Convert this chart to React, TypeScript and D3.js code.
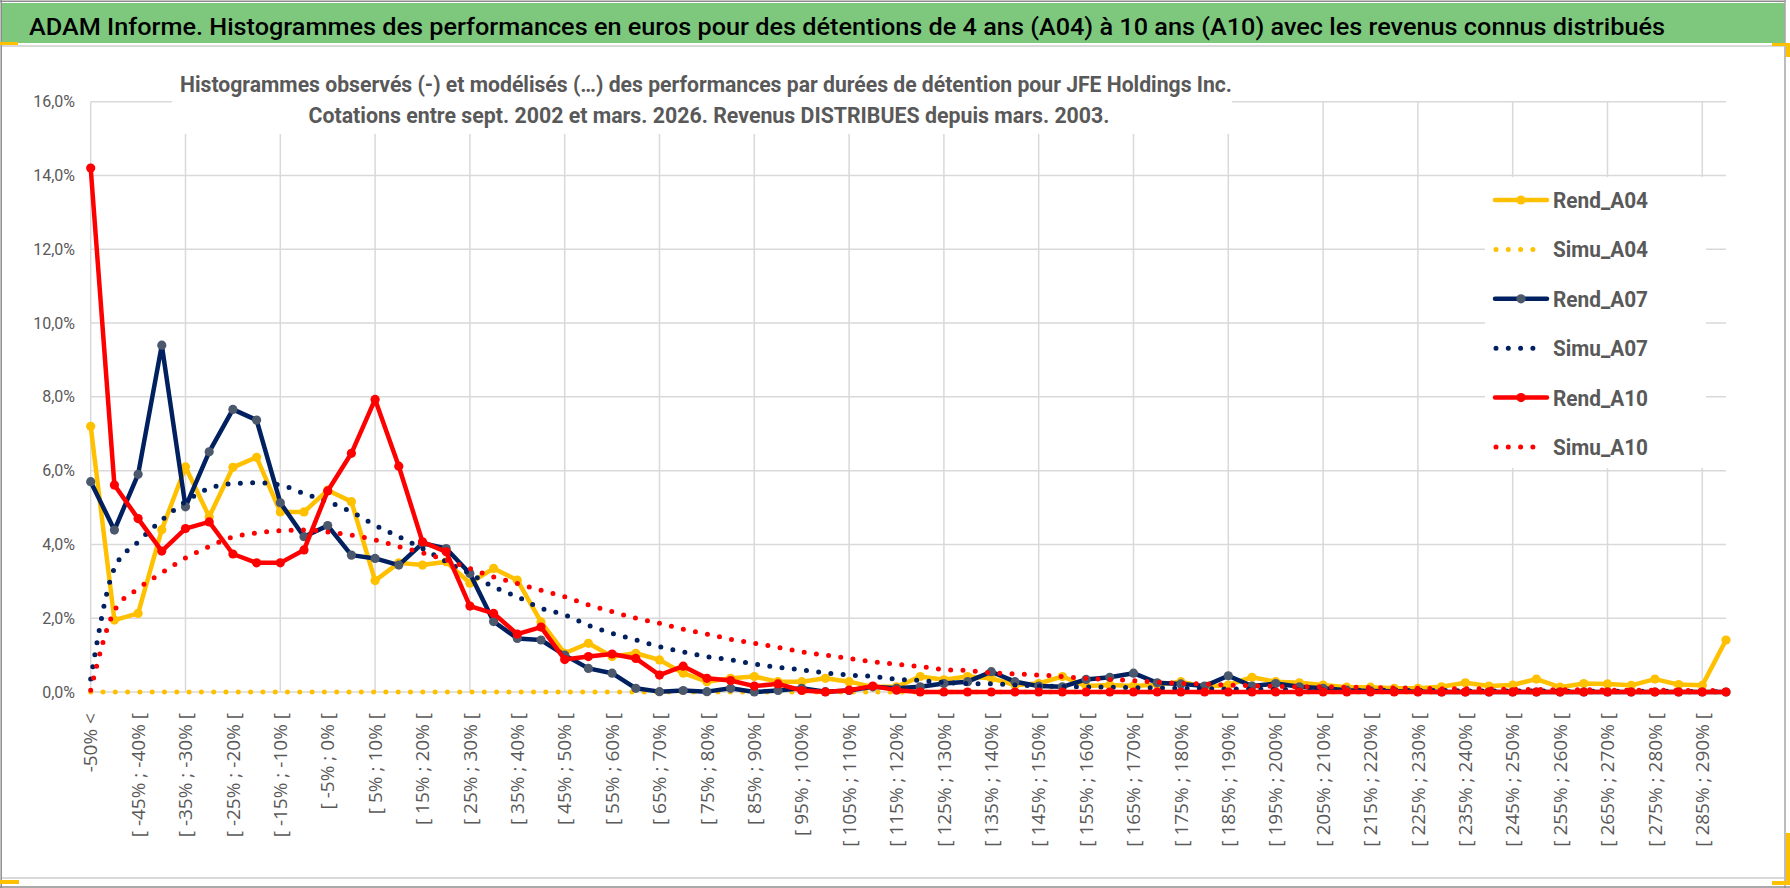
import React from 'react';
import * as d3 from 'd3';

// categories (5% buckets), labels shown every other bucket
const CATEGORIES = [
  '-50% <',
  '[ -50% ; -45% [', '[ -45% ; -40% [', '[ -40% ; -35% [', '[ -35% ; -30% [', '[ -30% ; -25% [',
  '[ -25% ; -20% [', '[ -20% ; -15% [', '[ -15% ; -10% [', '[ -10% ; -5% [', '[ -5% ; 0% [',
  '[ 0% ; 5% [', '[ 5% ; 10% [', '[ 10% ; 15% [', '[ 15% ; 20% [', '[ 20% ; 25% [',
  '[ 25% ; 30% [', '[ 30% ; 35% [', '[ 35% ; 40% [', '[ 40% ; 45% [', '[ 45% ; 50% [',
  '[ 50% ; 55% [', '[ 55% ; 60% [', '[ 60% ; 65% [', '[ 65% ; 70% [', '[ 70% ; 75% [',
  '[ 75% ; 80% [', '[ 80% ; 85% [', '[ 85% ; 90% [', '[ 90% ; 95% [', '[ 95% ; 100% [',
  '[ 100% ; 105% [', '[ 105% ; 110% [', '[ 110% ; 115% [', '[ 115% ; 120% [', '[ 120% ; 125% [',
  '[ 125% ; 130% [', '[ 130% ; 135% [', '[ 135% ; 140% [', '[ 140% ; 145% [', '[ 145% ; 150% [',
  '[ 150% ; 155% [', '[ 155% ; 160% [', '[ 160% ; 165% [', '[ 165% ; 170% [', '[ 170% ; 175% [',
  '[ 175% ; 180% [', '[ 180% ; 185% [', '[ 185% ; 190% [', '[ 190% ; 195% [', '[ 195% ; 200% [',
  '[ 200% ; 205% [', '[ 205% ; 210% [', '[ 210% ; 215% [', '[ 215% ; 220% [', '[ 220% ; 225% [',
  '[ 225% ; 230% [', '[ 230% ; 235% [', '[ 235% ; 240% [', '[ 240% ; 245% [', '[ 245% ; 250% [',
  '[ 250% ; 255% [', '[ 255% ; 260% [', '[ 260% ; 265% [', '[ 265% ; 270% [', '[ 270% ; 275% [',
  '[ 275% ; 280% [', '[ 280% ; 285% [', '[ 285% ; 290% [', '[ 290% ; 295% ['
];

const REND_A04 = [
  7.2, 1.95, 2.13, 4.4, 6.1, 4.75, 6.09, 6.36, 4.88, 4.88,
  5.47, 5.16, 3.02, 3.5, 3.44, 3.53, 2.95, 3.35, 3.03, 1.9,
  1.05, 1.32, 0.96, 1.05, 0.87, 0.51, 0.28, 0.37, 0.42, 0.28,
  0.28, 0.37, 0.28, 0.14, 0.14, 0.42, 0.33, 0.42, 0.37, 0.19,
  0.23, 0.42, 0.16, 0.19, 0.16, 0.2, 0.28, 0.14, 0.19, 0.4,
  0.28, 0.25, 0.19, 0.13, 0.13, 0.1, 0.1, 0.14, 0.25, 0.16,
  0.19, 0.35, 0.13, 0.23, 0.22, 0.18, 0.35, 0.2, 0.18, 1.41
];

const SIMU_A04 = [
  0, 0, 0, 0, 0, 0, 0, 0, 0, 0,
  0, 0, 0, 0, 0, 0, 0, 0, 0, 0,
  0, 0, 0, 0, 0, 0, 0, 0, 0, 0,
  0, 0, 0, 0, 0, 0, 0, 0, 0, 0,
  0, 0, 0, 0, 0, 0, 0, 0, 0, 0,
  0, 0, 0, 0, 0, 0, 0, 0, 0, 0,
  0, 0, 0, 0, 0, 0, 0, 0, 0, 0
];

const REND_A07 = [
  5.7, 4.39, 5.9, 9.4, 5.02, 6.51, 7.66, 7.37, 5.13, 4.21,
  4.51, 3.71, 3.62, 3.44, 4.03, 3.89, 3.21, 1.91, 1.45, 1.41,
  1.0, 0.64, 0.51, 0.1, 0.01, 0.04, 0.01, 0.1, 0.0, 0.04,
  0.1, 0.01, 0.04, 0.14, 0.1, 0.14, 0.23, 0.28, 0.55, 0.28,
  0.16, 0.14, 0.34, 0.4, 0.51, 0.25, 0.22, 0.16, 0.44, 0.16,
  0.23, 0.14, 0.1, 0.05, 0.03, 0.02, 0.01, 0, 0, 0,
  0, 0, 0, 0, 0, 0, 0, 0, 0, 0
];

const SIMU_A07 = [
  0.35, 3.35, 4.07, 4.66, 5.16, 5.52, 5.65, 5.67, 5.61, 5.38,
  5.16, 4.88, 4.52, 4.21, 3.89, 3.53, 3.21, 2.85, 2.58, 2.27,
  2.09, 1.81, 1.59, 1.41, 1.23, 1.09, 0.96, 0.87, 0.76, 0.67,
  0.6, 0.52, 0.46, 0.42, 0.35, 0.31, 0.26, 0.23, 0.22, 0.19,
  0.16, 0.15, 0.14, 0.13, 0.12, 0.11, 0.1, 0.09, 0.08, 0.08,
  0.07, 0.06, 0.06, 0.05, 0.05, 0.04, 0.04, 0.04, 0.03, 0.03,
  0.03, 0.03, 0.02, 0.02, 0.02, 0.02, 0.02, 0.02, 0.01, 0.01
];

const REND_A10 = [
  14.2, 5.61, 4.7, 3.82, 4.43, 4.61, 3.74, 3.5, 3.5, 3.85,
  5.45, 6.47, 7.93, 6.12, 4.07, 3.8, 2.33, 2.13, 1.57, 1.76,
  0.88, 0.96, 1.03, 0.91, 0.46, 0.7, 0.37, 0.31, 0.16, 0.22,
  0.04, 0, 0.05, 0.16, 0.05, 0, 0, 0, 0, 0,
  0, 0, 0, 0, 0, 0, 0, 0, 0, 0,
  0, 0, 0, 0, 0, 0, 0, 0, 0, 0,
  0, 0, 0, 0, 0, 0, 0, 0, 0, 0
];

const SIMU_A10 = [
  0.05, 2.2, 2.8, 3.23, 3.63, 3.94, 4.2, 4.31, 4.37, 4.39,
  4.34, 4.25, 4.12, 3.94, 3.77, 3.58, 3.35, 3.12, 2.94, 2.76,
  2.58, 2.36, 2.18, 2.0, 1.86, 1.7, 1.57, 1.43, 1.32, 1.21,
  1.09, 1.0, 0.91, 0.82, 0.75, 0.69, 0.61, 0.58, 0.52, 0.49,
  0.46, 0.42, 0.37, 0.34, 0.31, 0.27, 0.23, 0.22, 0.19, 0.17,
  0.15, 0.14, 0.14, 0.13, 0.12, 0.11, 0.1, 0.09, 0.09, 0.08,
  0.07, 0.07, 0.06, 0.06, 0.05, 0.05, 0.05, 0.04, 0.04, 0.04
];

const Y_TICKS = [0, 2, 4, 6, 8, 10, 12, 14, 16];

const BANNER = 'ADAM Informe. Histogrammes des performances en euros pour des détentions de 4 ans (A04) à 10 ans (A10) avec les revenus connus distribués';
const TITLE_1 = 'Histogrammes observés (-) et modélisés (…) des performances par durées de détention pour JFE Holdings Inc.';
const TITLE_2 = 'Cotations entre sept. 2002 et mars. 2026.  Revenus DISTRIBUES depuis mars. 2003.';

interface Series {
  name: string;
  values: number[];
  color: string;
  marker: string;
  dotted: boolean;
}

const SERIES: Series[] = [
  { name: 'Rend_A04', values: REND_A04, color: '#ffc000', marker: '#ffc000', dotted: false },
  { name: 'Simu_A04', values: SIMU_A04, color: '#ffc000', marker: '', dotted: true },
  { name: 'Rend_A07', values: REND_A07, color: '#002060', marker: '#4c586c', dotted: false },
  { name: 'Simu_A07', values: SIMU_A07, color: '#002060', marker: '', dotted: true },
  { name: 'Rend_A10', values: REND_A10, color: '#ff0000', marker: '#ff0000', dotted: false },
  { name: 'Simu_A10', values: SIMU_A10, color: '#ff0000', marker: '', dotted: true }
];

const W = 1790;
const H = 888;
const left = 90.7;
const right = 1726;
const top = 101.7;
const bottom = 692;
const GREY = '#595959';
const GRID = '#d9d9d9';
const FONT = 'Roboto, "Liberation Sans", sans-serif';
const DOTS = '0 12.3';

const pct = d3.formatLocale({ decimal: ',', thousands: ' ', grouping: [3], currency: ['', ' €'] }).format('.1%');

const App: React.FC = () => {
  const x = d3.scalePoint<string>().domain(CATEGORIES).range([left, right]);
  const y = d3.scaleLinear().domain([0, 16]).range([bottom, top]);

  const solid = d3
    .line<number>()
    .x((_, i) => x(CATEGORIES[i]) as number)
    .y((d) => y(d));
  const smooth = d3
    .line<number>()
    .x((_, i) => x(CATEGORIES[i]) as number)
    .y((d) => y(d))
    .curve(d3.curveMonotoneX);

  const legendX = 1495;
  const legendY = 200;
  const legendStep = 49.4;

  return (
    <svg
      width={W}
      height={H}
      viewBox={`0 0 ${W} ${H}`}
      style={{ position: 'absolute', left: 0, top: 0, display: 'block', background: '#fff' }}
      fontFamily={FONT}
    >
      {/* frame + banner */}
      <rect x={0} y={0} width={W} height={H} fill="#fff" />
      <rect x={1} y={3} width={1784} height={40} fill="#7ec87e" />
      <line x1={0} x2={1786} y1={1.2} y2={1.2} stroke="#8c8c8c" strokeWidth={1.5} />
      <line x1={1.2} x2={1.2} y1={0} y2={888} stroke="#8c8c8c" strokeWidth={1.5} />
      <line x1={1785} x2={1785} y1={0} y2={888} stroke="#a6a6a6" strokeWidth={1.5} />
      <line x1={0} x2={1790} y1={887} y2={887} stroke="#8c8c8c" strokeWidth={1.5} />
      <line x1={2} x2={1784} y1={46} y2={46} stroke={GRID} strokeWidth={2} />
      <line x1={2} x2={1784} y1={878} y2={878} stroke={GRID} strokeWidth={2} />
      <rect x={0} y={42} width={18} height={3} fill="#ffc000" />
      <rect x={0} y={880} width={19} height={4} fill="#ffc000" />
      <rect x={1772} y={881} width={18} height={4} fill="#ffc000" />
      <rect x={1786} y={833} width={4} height={52} fill="#ffc000" />
      <rect x={1772} y={43} width={18} height={3} fill="#ffc000" />
      <rect x={1786} y={43} width={4} height={14} fill="#ffc000" />
      <text x={29} y={35} fontSize={24} fontWeight={500} fill="#000" textLength={1636} lengthAdjust="spacingAndGlyphs">
        {BANNER}
      </text>

      {/* gridlines */}
      {Y_TICKS.map((t) => (
        <line key={`h${t}`} x1={left} x2={right} y1={y(t)} y2={y(t)} stroke={GRID} strokeWidth={1.5} />
      ))}
      {CATEGORIES.filter((_, i) => i % 4 === 0).map((c) => (
        <line key={`v${c}`} x1={x(c)} x2={x(c)} y1={top} y2={bottom} stroke={GRID} strokeWidth={1.5} />
      ))}

      {/* axis labels */}
      {Y_TICKS.map((t) => (
        <text key={`yl${t}`} x={75} y={y(t)} dy="0.35em" textAnchor="end" fontSize={16} fill={GREY}>
          {pct(t / 100)}
        </text>
      ))}
      {CATEGORIES.filter((_, i) => i % 2 === 0).map((c) => (
        <text
          key={`xl${c}`}
          transform={`translate(${x(c)},713) rotate(-90)`}
          dy="0.35em"
          textAnchor="end"
          fontSize={19}
          fontFamily='"Open Sans", sans-serif'
          fill={GREY}
        >
          {c}
        </text>
      ))}

      {/* title and legend boxes hide the grid under them */}
      <rect x={172} y={56} width={1060} height={78} fill="#fff" />
      <text x={706} y={91.7} textAnchor="middle" fontSize={22} fontWeight={700} fill={GREY} textLength={1052} lengthAdjust="spacingAndGlyphs">
        {TITLE_1}
      </text>
      <text x={709} y={123} textAnchor="middle" fontSize={22} fontWeight={700} fill={GREY} textLength={801} lengthAdjust="spacingAndGlyphs">
        {TITLE_2}
      </text>
      <rect x={1485} y={177} width={221} height={291} fill="#fff" />

      {/* series */}
      {SERIES.map((s) => (
        <g key={s.name}>
          {s.dotted ? (
            <path d={smooth(s.values) || ''} fill="none" stroke={s.color} strokeWidth={5} strokeDasharray={DOTS} strokeLinecap="round" />
          ) : (
            <>
              <path d={solid(s.values) || ''} fill="none" stroke={s.color} strokeWidth={4.5} strokeLinejoin="round" />
              {s.values.map((v, i) => (
                <circle key={i} cx={x(CATEGORIES[i])} cy={y(v)} r={4.6} fill={s.marker} />
              ))}
            </>
          )}
        </g>
      ))}

      {/* legend */}
      {SERIES.map((s, i) => {
        const cy = legendY + i * legendStep;
        return (
          <g key={`lg${s.name}`}>
            {s.dotted ? (
              <line x1={legendX + 1} x2={legendX + 50} y1={cy} y2={cy} stroke={s.color} strokeWidth={5} strokeDasharray={DOTS} strokeLinecap="round" />
            ) : (
              <>
                <line x1={legendX} x2={legendX + 52} y1={cy} y2={cy} stroke={s.color} strokeWidth={4.5} strokeLinecap="round" />
                <circle cx={legendX + 26} cy={cy} r={4.6} fill={s.marker} />
              </>
            )}
            <text x={1553} y={cy} dy="0.36em" fontSize={22} fontWeight={700} fill={GREY} textLength={95} lengthAdjust="spacingAndGlyphs">
              {s.name}
            </text>
          </g>
        );
      })}
    </svg>
  );
};

export default App;
